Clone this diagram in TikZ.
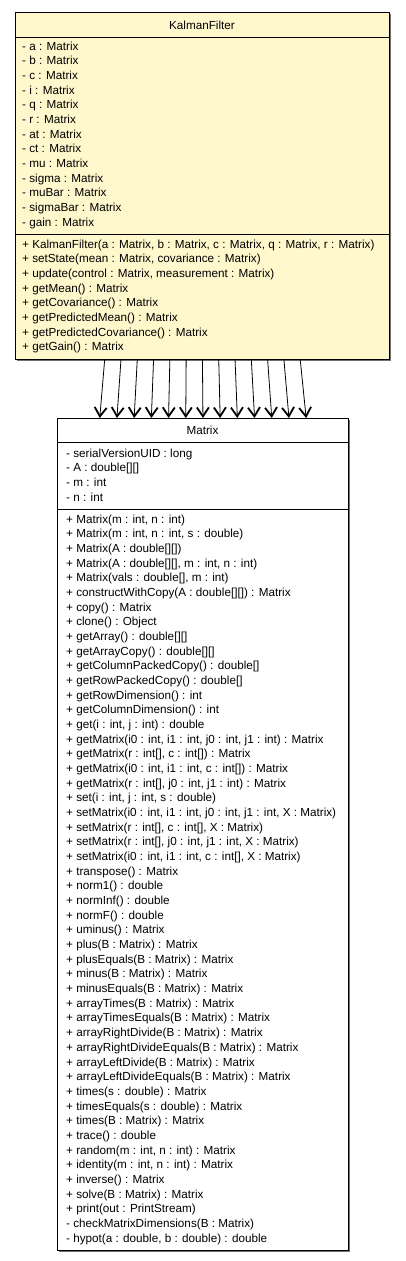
\documentclass[tikz,border=0pt]{standalone}
\usepackage{fontspec}
\setmainfont{Liberation Sans}
\usetikzlibrary{arrows.meta, positioning, calc}
\definecolor{umlyellow}{HTML}{FFF8CC}
\definecolor{umlshadow}{HTML}{707070}

\begin{document}
\begin{tikzpicture}[
      x=1pt, y=-1pt,
      font=\fontsize{11.7}{14.67}\selectfont,
      cls/.style={draw=black, line width=0.9pt, anchor=north west, inner sep=0pt},
      dropshade/.style={fill=umlshadow, draw=none, anchor=north west, inner sep=0pt},
      clsname/.style={inner sep=0pt},
      members/.style={anchor=north west, inner sep=0pt, align=left},
      sep/.style={black, line width=0.9pt},
      assoc/.style={-{Straight Barb[length=9pt,width=12pt,line width=1.8pt]}, line width=0.8pt},
    ]
    \useasboundingbox (0,0) rectangle (405,1261);

    % ---------------- KalmanFilter
    \node[dropshade, minimum width=374pt, minimum height=347pt] (kfshadow) at (17,14) {};
    \node[cls, fill=umlyellow, minimum width=374pt, minimum height=347pt] (kf) at (15,12) {};
    \node[clsname] (kfname) at (202,25) {KalmanFilter};
    \draw[sep] (15,37) -- (389,37);
    \node[members] (kfattrs) at (22,41) {\rule{0pt}{9pt}- a : Matrix\\- b : Matrix\\- c : Matrix\\- i : Matrix\\
      - q : Matrix\\- r : Matrix\\- at : Matrix\\- ct : Matrix\\- mu : Matrix\\- sigma : Matrix\\
      - muBar : Matrix\\- sigmaBar : Matrix\\- gain : Matrix};
    \draw[sep] (15,234) -- (389,234);
    \node[members] (kfops) at (22,239) {\rule{0pt}{9pt}+ KalmanFilter(a : Matrix, b : Matrix, c : Matrix, q : Matrix, r : Matrix)\\
      + setState(mean : Matrix, covariance : Matrix)\\
      + update(control : Matrix, measurement : Matrix)\\
      + getMean() : Matrix\\
      + getCovariance() : Matrix\\
      + getPredictedMean() : Matrix\\
      + getPredictedCovariance() : Matrix\\
      + getGain() : Matrix};

    % ---------------- Matrix
    \node[dropshade, minimum width=291pt, minimum height=832pt] (mxshadow) at (59,420) {};
    \node[cls, fill=white, minimum width=291pt, minimum height=832pt] (mx) at (57,418) {};
    \node[clsname] (mxname) at (202.5,430) {Matrix};
    \draw[sep] (57,442) -- (348,442);
    \node[members] (mxattrs) at (66,448) {\rule{0pt}{9pt}- serialVersionUID : long\\- A : double[][]\\- m : int\\- n : int};
    \draw[sep] (57,509) -- (348,509);
    \node[members] (mxops) at (66,514) {\rule{0pt}{9pt}+ Matrix(m : int, n : int)\\
      + Matrix(m : int, n : int, s : double)\\
      + Matrix(A : double[][])\\
      + Matrix(A : double[][], m : int, n : int)\\
      + Matrix(vals : double[], m : int)\\
      + constructWithCopy(A : double[][]) : Matrix\\
      + copy() : Matrix\\
      + clone() : Object\\
      + getArray() : double[][]\\
      + getArrayCopy() : double[][]\\
      + getColumnPackedCopy() : double[]\\
      + getRowPackedCopy() : double[]\\
      + getRowDimension() : int\\
      + getColumnDimension() : int\\
      + get(i : int, j : int) : double\\
      + getMatrix(i0 : int, i1 : int, j0 : int, j1 : int) : Matrix\\
      + getMatrix(r : int[], c : int[]) : Matrix\\
      + getMatrix(i0 : int, i1 : int, c : int[]) : Matrix\\
      + getMatrix(r : int[], j0 : int, j1 : int) : Matrix\\
      + set(i : int, j : int, s : double)\\
      + setMatrix(i0 : int, i1 : int, j0 : int, j1 : int, X : Matrix)\\
      + setMatrix(r : int[], c : int[], X : Matrix)\\
      + setMatrix(r : int[], j0 : int, j1 : int, X : Matrix)\\
      + setMatrix(i0 : int, i1 : int, c : int[], X : Matrix)\\
      + transpose() : Matrix\\
      + norm1() : double\\
      + normInf() : double\\
      + normF() : double\\
      + uminus() : Matrix\\
      + plus(B : Matrix) : Matrix\\
      + plusEquals(B : Matrix) : Matrix\\
      + minus(B : Matrix) : Matrix\\
      + minusEquals(B : Matrix) : Matrix\\
      + arrayTimes(B : Matrix) : Matrix\\
      + arrayTimesEquals(B : Matrix) : Matrix\\
      + arrayRightDivide(B : Matrix) : Matrix\\
      + arrayRightDivideEquals(B : Matrix) : Matrix\\
      + arrayLeftDivide(B : Matrix) : Matrix\\
      + arrayLeftDivideEquals(B : Matrix) : Matrix\\
      + times(s : double) : Matrix\\
      + timesEquals(s : double) : Matrix\\
      + times(B : Matrix) : Matrix\\
      + trace() : double\\
      + random(m : int, n : int) : Matrix\\
      + identity(m : int, n : int) : Matrix\\
      + inverse() : Matrix\\
      + solve(B : Matrix) : Matrix\\
      + print(out : PrintStream)\\
      - checkMatrixDimensions(B : Matrix)\\
      - hypot(a : double, b : double) : double};

    % ---------------- associations
    \foreach \i in {0,...,12}
      \draw[assoc] ([xshift={(\i-6)*16.3}]kf.south) -- ([xshift={(\i-6)*17.2}]mx.north);
  \end{tikzpicture}
\end{document}
